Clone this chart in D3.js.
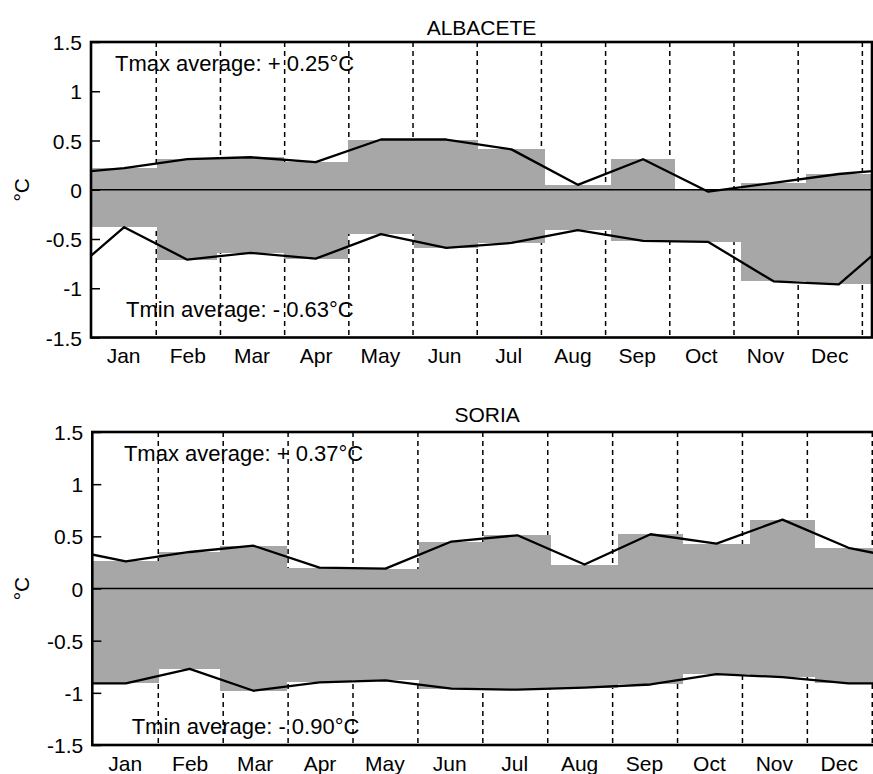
<!DOCTYPE html>
<html>
<head>
<meta charset="utf-8">
<script src="https://cdn.jsdelivr.net/npm/d3@7"></script>
<style>
  html, body { margin: 0; padding: 0; background: #fff; }
  svg { display: block; }
  text { font-family: "Liberation Sans", Arial, Helvetica, sans-serif; fill: #000; }
</style>
</head>
<body>
<svg id="chart" width="873" height="774"></svg>
<script>
// ---------- data ----------
const months = ["Jan","Feb","Mar","Apr","May","Jun","Jul","Aug","Sep","Oct","Nov","Dec"];
const monthLengths = [31,28,31,30,31,30,31,31,30,31,30,31];

const albaceteTmax = [0.22, 0.31, 0.33, 0.28, 0.51, 0.51, 0.41, 0.05, 0.31, -0.02, 0.07, 0.16];
const albaceteTmin = [-0.38, -0.71, -0.64, -0.70, -0.45, -0.59, -0.54, -0.41, -0.52, -0.53, -0.93, -0.96];

const soriaTmax = [0.26, 0.35, 0.41, 0.20, 0.19, 0.45, 0.51, 0.23, 0.52, 0.43, 0.66, 0.39];
const soriaTmin = [-0.91, -0.77, -0.98, -0.90, -0.88, -0.96, -0.97, -0.95, -0.92, -0.82, -0.85, -0.91];

const yTickValues = [-1.5, -1, -0.5, 0, 0.5, 1, 1.5];
const yTickLabels = ["-1.5", "-1", "-0.5", "0", "0.5", "1", "1.5"];
const yUnit = "°C";

const panelTitles = ["ALBACETE", "SORIA"];
const tmaxTexts = ["Tmax average: + 0.25°C", "Tmax average: + 0.37°C"];
const tminTexts = ["Tmin average: - 0.63°C", "Tmin average: - 0.90°C"];

// ---------- layout ----------
const layout = [
  { x0: 91, x1: 872, y0: 42, y1: 337.5, titleY: 34.5, unitX: 29, maxPos: [11.2, 1.205], minPos: [16.4, -1.296] },
  { x0: 92.3, x1: 882, y0: 432, y1: 745, titleY: 421.5, unitX: 29, maxPos: [14.6, 1.22], minPos: [18.2, -1.393] }
];
const panels = [
  { title: panelTitles[0], tmax: albaceteTmax, tmin: albaceteTmin, tmaxText: tmaxTexts[0], tminText: tminTexts[0] },
  { title: panelTitles[1], tmax: soriaTmax, tmin: soriaTmin, tmaxText: tmaxTexts[1], tminText: tminTexts[1] }
];

const GRAY = "#a7a7a7";
const FS = 21;

const svg = d3.select("#chart");

// month boundaries (day of year)
const monthStarts = d3.cumsum([0].concat(monthLengths.slice(0, 11)));
const monthMids = monthStarts.map((s, i) => s + monthLengths[i] / 2);
const labelDays = months.map((m, i) => 15 + 30 * i);
const gridDays = months.map((m, i) => 30.5 + 30 * i);

panels.forEach((p, pi) => {
  const L = layout[pi];
  const x = d3.scaleLinear().domain([0, 365]).range([L.x0, L.x1]);
  const y = d3.scaleLinear().domain([-1.5, 1.5]).range([L.y1, L.y0]);

  const g = svg.append("g");
  const clipId = "clip" + pi;
  svg.append("defs").append("clipPath").attr("id", clipId)
    .append("rect").attr("x", L.x0).attr("y", L.y0)
    .attr("width", L.x1 - L.x0).attr("height", L.y1 - L.y0);

  const plot = g.append("g").attr("clip-path", `url(#${clipId})`);

  // dashed month separators
  plot.selectAll("line.grid").data(gridDays).join("line")
    .attr("class", "grid")
    .attr("x1", d => x(d)).attr("x2", d => x(d))
    .attr("y1", L.y0).attr("y2", L.y1)
    .attr("stroke", "#000").attr("stroke-width", 1.5)
    .attr("stroke-dasharray", "5,4");

  // bars
  [p.tmax, p.tmin].forEach(vals => {
    plot.append("g").selectAll("rect").data(vals).join("rect")
      .attr("x", (v, i) => x(monthStarts[i]))
      .attr("width", (v, i) => x(monthStarts[i] + monthLengths[i]) - x(monthStarts[i]))
      .attr("y", v => y(Math.max(0, v)))
      .attr("height", v => Math.abs(y(0) - y(v)))
      .attr("fill", GRAY)
      .attr("shape-rendering", "crispEdges");
  });

  // zero line
  plot.append("line")
    .attr("x1", L.x0).attr("x2", L.x1)
    .attr("y1", y(0)).attr("y2", y(0))
    .attr("stroke", "#000").attr("stroke-width", 1.5);

  // series lines (cyclic through month mid-points)
  const line = d3.line().x(d => x(d[0])).y(d => y(d[1]));
  [p.tmax, p.tmin].forEach(vals => {
    const pts = [[monthMids[11] - 365, vals[11]]]
      .concat(vals.map((v, i) => [monthMids[i], v]))
      .concat([[monthMids[0] + 365, vals[0]]]);
    plot.append("path").datum(pts)
      .attr("d", line)
      .attr("fill", "none")
      .attr("stroke", "#000")
      .attr("stroke-width", 2.3)
      .attr("stroke-linejoin", "round");
  });

  // annotations
  g.append("text")
    .attr("x", x(L.maxPos[0])).attr("y", y(L.maxPos[1]))
    .attr("font-size", 22).text(p.tmaxText);
  g.append("text")
    .attr("x", x(L.minPos[0])).attr("y", y(L.minPos[1]))
    .attr("font-size", 22).text(p.tminText);

  // frame
  g.append("rect")
    .attr("x", L.x0).attr("y", L.y0)
    .attr("width", L.x1 - L.x0).attr("height", L.y1 - L.y0)
    .attr("fill", "none").attr("stroke", "#000").attr("stroke-width", 2.6);

  // y axis
  const yAxis = d3.axisLeft(y)
    .tickValues(yTickValues)
    .tickFormat((d, i) => yTickLabels[i])
    .tickSizeInner(-9).tickSizeOuter(0).tickPadding(9);
  const ya = g.append("g").attr("transform", `translate(${L.x0},0)`).call(yAxis);
  ya.select(".domain").remove();
  ya.selectAll(".tick line").attr("stroke", "#000").attr("stroke-width", 1.5);
  ya.selectAll(".tick text").attr("font-size", FS)
    .attr("font-family", "Liberation Sans, Arial, Helvetica, sans-serif")
    .attr("fill", "#000").attr("dy", "0.36em");

  // x axis (month labels)
  const xAxis = d3.axisBottom(x)
    .tickValues(labelDays)
    .tickFormat((d, i) => months[i])
    .tickSize(0).tickPadding(0);
  const xa = g.append("g").attr("transform", `translate(0,${L.y1})`).call(xAxis);
  xa.select(".domain").remove();
  xa.selectAll(".tick text").attr("font-size", FS)
    .attr("font-family", "Liberation Sans, Arial, Helvetica, sans-serif")
    .attr("fill", "#000").attr("dy", null).attr("y", 25.5);

  // title
  g.append("text")
    .attr("x", (L.x0 + L.x1) / 2).attr("y", L.titleY)
    .attr("text-anchor", "middle").attr("font-size", FS)
    .text(p.title);

  // unit label
  g.append("text")
    .attr("transform", `translate(${L.unitX},${y(0)}) rotate(-90)`)
    .attr("text-anchor", "middle").attr("font-size", FS)
    .text(yUnit);
});
</script>
</body>
</html>
